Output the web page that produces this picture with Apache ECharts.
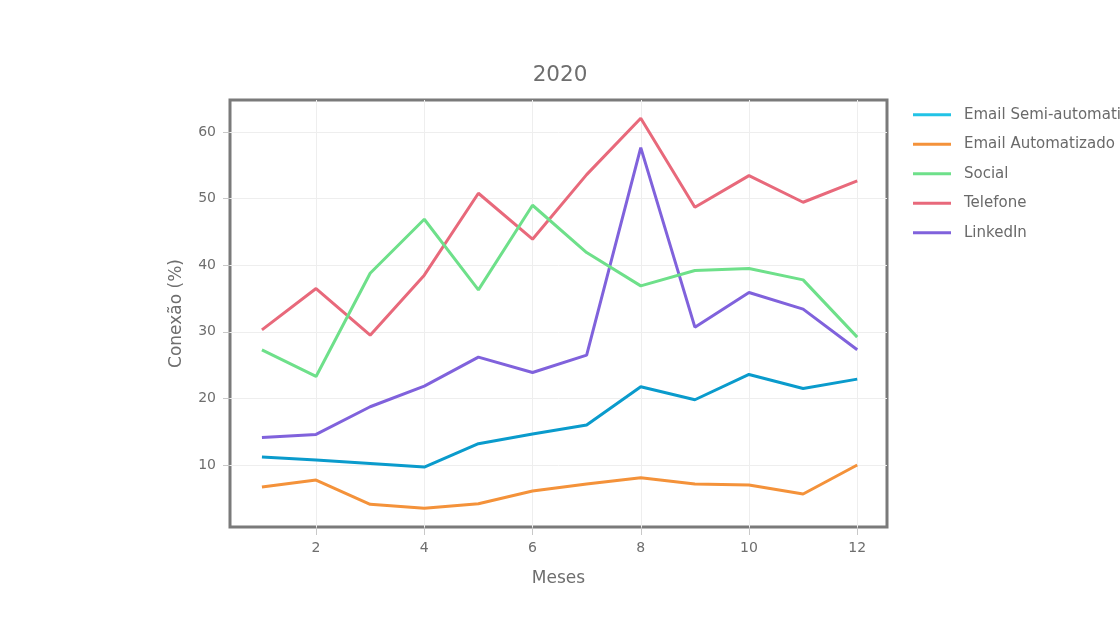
<!DOCTYPE html>
<html>
<head>
<meta charset="utf-8">
<script src="https://cdn.jsdelivr.net/npm/echarts@6/dist/echarts.min.js"></script>
<style>html,body{margin:0;padding:0;background:#fff}#c{width:1120px;height:630px}</style>
</head>
<body>
<div id="c"></div>
<script>
const months = [1,2,3,4,5,6,7,8,9,10,11,12];
const xTicks = [2,4,6,8,10,12];
const yTicks = [10,20,30,40,50,60];
const seriesNames = ['Email Semi-automatizado','Email Automatizado','Social','Telefone','LinkedIn'];
const emailSemi = [11.2,10.75,10.25,9.7,13.2,14.65,16.0,21.75,19.8,23.6,21.5,22.9];
const emailAuto = [6.7,7.75,4.1,3.5,4.2,6.1,7.15,8.1,7.15,7.0,5.65,10.0];
const social = [27.3,23.3,38.8,46.9,36.3,49.0,41.9,36.9,39.2,39.5,37.8,29.2];
const telefone = [30.3,36.5,29.5,38.5,50.8,43.9,53.6,62.05,48.7,53.45,49.45,52.65];
const linkedin = [14.15,14.6,18.75,21.85,26.2,23.9,26.5,57.65,30.7,35.9,33.4,27.3];
const colors = ['#0a9bcc','#f4923a','#6ee08a','#e8697b','#8062dc'];
const legendColors = ['#22c3e6','#f4923a','#6ee08a','#e8697b','#8062dc'];
const allData = [emailSemi,emailAuto,social,telefone,linkedin];

const font = 'DejaVu Sans';
const chart = echarts.init(document.getElementById('c'));
chart.setOption({
  animation:false,
  textStyle:{fontFamily:font},
  title:{text:'2020',left:'center',top:59,textStyle:{fontFamily:font,fontSize:21.5,fontWeight:'normal',color:'#6e6e6e'}},
  legend:{
    orient:'vertical',left:908,top:100,
    icon:'rect',itemWidth:38,itemHeight:3,itemGap:10,
    textStyle:{fontFamily:font,fontSize:15,color:'#6a6a6a',lineHeight:19.5,padding:[0,0,0,8]},
    data:seriesNames.map((n,i)=>({name:n,itemStyle:{color:legendColors[i]}}))
  },
  grid:{left:230,right:233,top:100,bottom:103,show:true,borderColor:'#7a7a7a',borderWidth:3,backgroundColor:'transparent',containLabel:false},
  xAxis:{
    type:'value',min:0.41,max:12.55,
    name:'Meses',nameLocation:'middle',nameGap:43,
    nameTextStyle:{fontFamily:font,fontSize:17,color:'#6e6e6e'},
    axisLine:{show:false},
    axisTick:{show:true,length:8,lineStyle:{color:'#c8c8c8'},customValues:xTicks},
    axisLabel:{customValues:xTicks,color:'#6e6e6e',fontSize:14,margin:14,fontFamily:font},
    splitLine:{show:true,lineStyle:{color:'#eeeeee',width:1}}
  },
  yAxis:{
    type:'value',min:0.7,max:64.8,
    name:'Conexão (%)',nameLocation:'middle',nameGap:45,nameRotate:90,
    nameTextStyle:{fontFamily:font,fontSize:17,color:'#6e6e6e'},
    axisLine:{show:false},
    axisTick:{show:true,length:7,lineStyle:{color:'#c8c8c8'},customValues:yTicks},
    axisLabel:{customValues:yTicks,color:'#6e6e6e',fontSize:14,margin:14,fontFamily:font},
    splitLine:{show:true,lineStyle:{color:'#eeeeee',width:1}}
  },
  series:seriesNames.map((n,i)=>({
    name:n,type:'line',
    data:months.map((m,j)=>[m,allData[i][j]]),
    showSymbol:false,symbol:'none',
    lineStyle:{color:colors[i],width:3},
    itemStyle:{color:colors[i]},
    z:10-i
  }))
});
</script>
</body>
</html>
